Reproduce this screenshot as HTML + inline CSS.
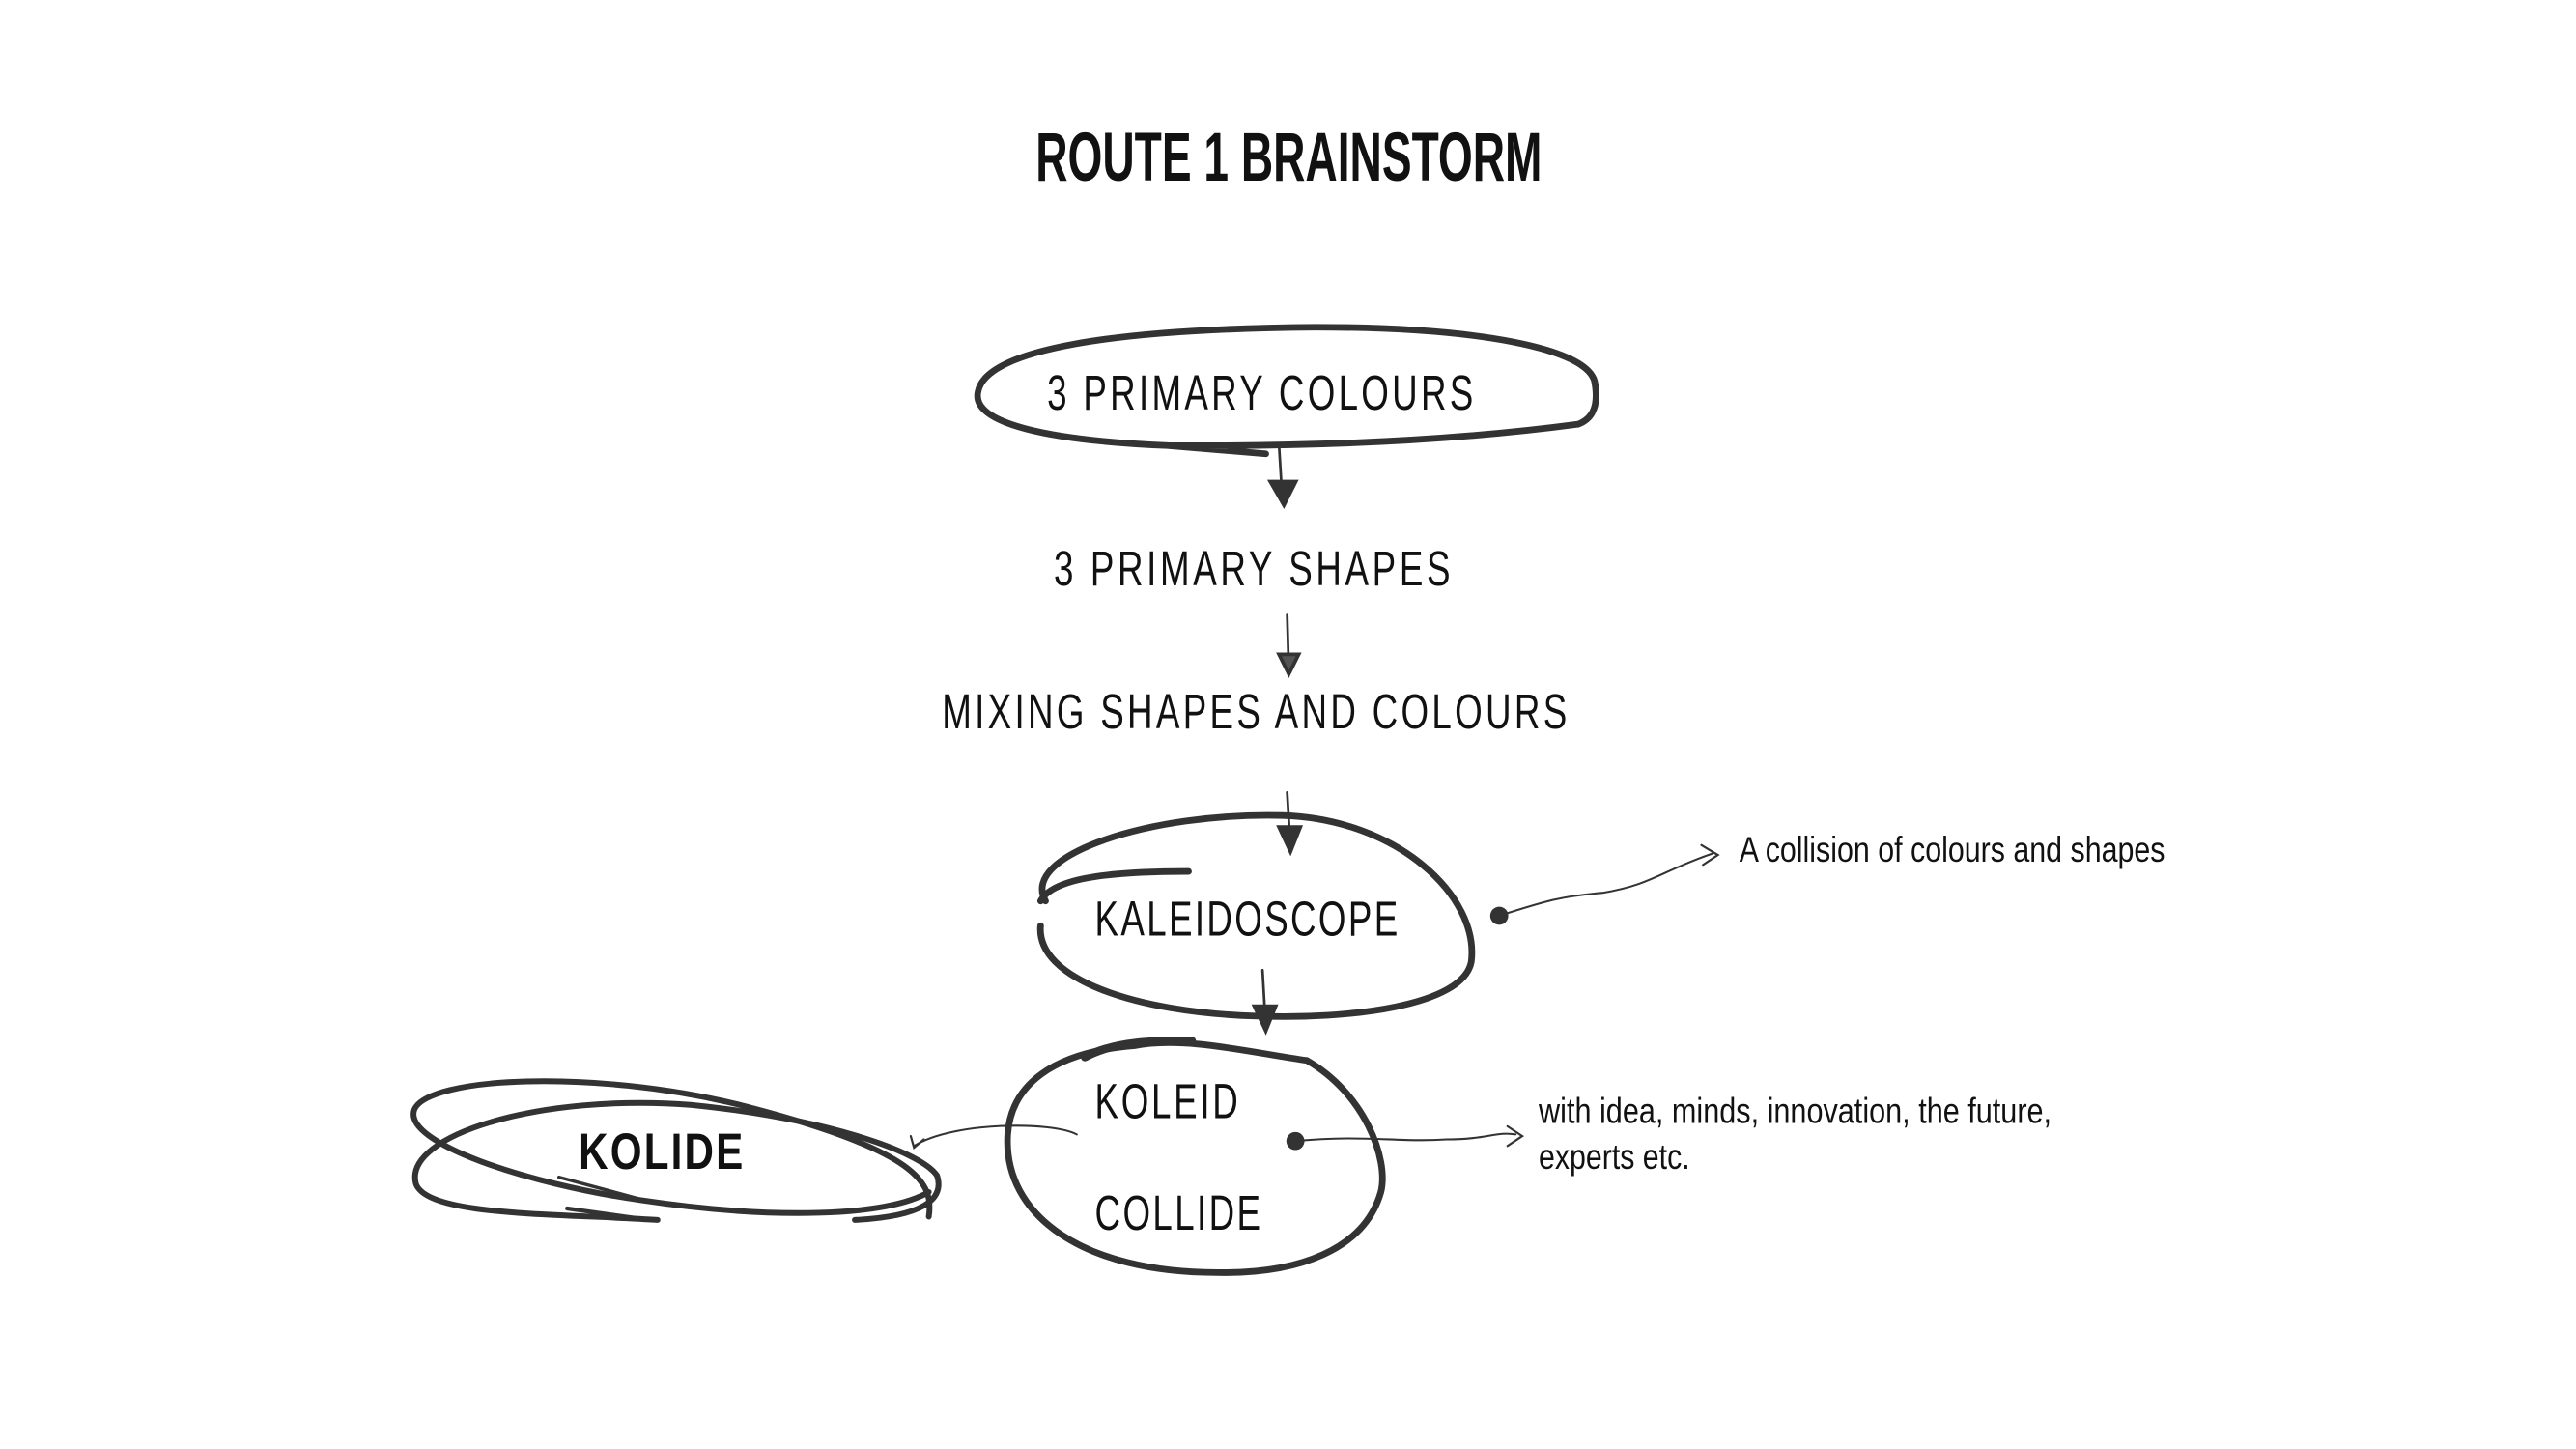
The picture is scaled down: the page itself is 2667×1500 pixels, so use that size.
<!DOCTYPE html>
<html><head><meta charset="utf-8"><style>
html,body{margin:0;padding:0;background:#fff;}
svg{display:block;}
text{font-family:"Liberation Sans Narrow","Liberation Sans",sans-serif;fill:#111;}
</style></head><body>
<svg width="2667" height="1500" viewBox="0 0 1567 881.3" xmlns="http://www.w3.org/2000/svg">
<g fill="none" stroke="#333" stroke-linecap="round">
<path d="M710,271 C640,268 590,258 595,238 C600,212 680,200 800,199 C900,199 965,212 970,232 C973,248 968,255 960,258 C900,266 820,272 710,271 L770,276" stroke-width="4"/>
<path d="M778,270 L780,303" stroke-width="1.6"/>
<path d="M773,293 L788,293 L781,307 Z" stroke-width="2.5" fill="#333"/>
<path d="M783,374 L784,408" stroke-width="1.6"/>
<path d="M778,398 L790,398 L784,410 Z" stroke-width="2.2" fill="#555"/>
<path d="M783,482 L785,516" stroke-width="1.6"/>
<path d="M778,503 L791,503 L785,518 Z" stroke-width="2.2" fill="#333"/>
<path d="M636,548 C620,520 700,494 780,496 C850,498 900,545 895,585 C890,612 820,620 765,618 C690,616 630,595 633,563" stroke-width="4"/>
<path d="M633,548 C640,535 670,530 723,530" stroke-width="4"/>
<circle cx="912" cy="557" r="5.5" fill="#333" stroke="none"/>
<path d="M912,557 C940,548 950,545 975,543 C1005,538 1010,530 1042,519" stroke-width="1.2"/>
<path d="M1035,514 L1045,520 L1036,526" stroke-width="1.3"/>
<path d="M768,590 L770,625" stroke-width="1.6"/>
<path d="M763,612 L776,612 L770,627 Z" stroke-width="2.2" fill="#333"/>
<path d="M690,636 C720,630 760,640 795,645 C830,665 845,705 840,725 C830,760 790,775 740,774 C660,774 610,740 613,690 C615,660 640,640 690,636" stroke-width="4"/>
<path d="M660,643 C680,632 710,633 725,633" stroke-width="5"/>
<circle cx="788" cy="694" r="5.5" fill="#333" stroke="none"/>
<path d="M788,694 C830,690 850,695 880,693 C905,693 910,688 922,690" stroke-width="1.2"/>
<path d="M917,685 L926,691 L917,697" stroke-width="1.3"/>
<path d="M400,742 C340,738 260,740 253,720 C245,690 330,665 420,672 C500,680 560,700 570,715 C575,730 560,740 520,742" stroke-width="3.5"/>
<path d="M565,740 C568,720 560,700 450,672 C360,650 260,655 252,675 C245,695 320,720 390,730 C470,742 540,740 565,725" stroke-width="3.5"/>
<path d="M345,735 L395,742" stroke-width="2.5"/>
<path d="M340,716 L392,730" stroke-width="2"/>
<path d="M655,690 C640,682 580,682 556,697" stroke-width="1.2"/>
<path d="M554,691 L556,698 L562,693" stroke-width="1.3"/>
</g>
<text x="630" y="110" font-size="42" font-weight="bold" textLength="308" lengthAdjust="spacingAndGlyphs" fill="#333">ROUTE 1 BRAINSTORM</text>
<text transform="translate(637,249) scale(0.72,1)" font-size="30" textLength="360" lengthAdjust="spacing">3 PRIMARY COLOURS</text>
<text transform="translate(641,356) scale(0.72,1)" font-size="30" textLength="335" lengthAdjust="spacing">3 PRIMARY SHAPES</text>
<text transform="translate(573,443) scale(0.72,1)" font-size="30" textLength="528" lengthAdjust="spacing">MIXING SHAPES AND COLOURS</text>
<text transform="translate(666,569) scale(0.72,1)" font-size="30" textLength="256" lengthAdjust="spacing">KALEIDOSCOPE</text>
<text transform="translate(666,680) scale(0.72,1)" font-size="30" textLength="121" lengthAdjust="spacing">KOLEID</text>
<text transform="translate(666,748) scale(0.72,1)" font-size="30" textLength="140" lengthAdjust="spacing">COLLIDE</text>
<text transform="translate(352,711) scale(0.8,1)" font-size="31" font-weight="bold" textLength="125" lengthAdjust="spacing">KOLIDE</text>
<text x="1058" y="524" font-size="22" textLength="259" lengthAdjust="spacingAndGlyphs">A collision of colours and shapes</text>
<text x="936" y="683" font-size="22" textLength="312" lengthAdjust="spacingAndGlyphs">with idea, minds, innovation, the future,</text>
<text x="936" y="711" font-size="22" textLength="92" lengthAdjust="spacingAndGlyphs">experts etc.</text>
</svg>
</body></html>
